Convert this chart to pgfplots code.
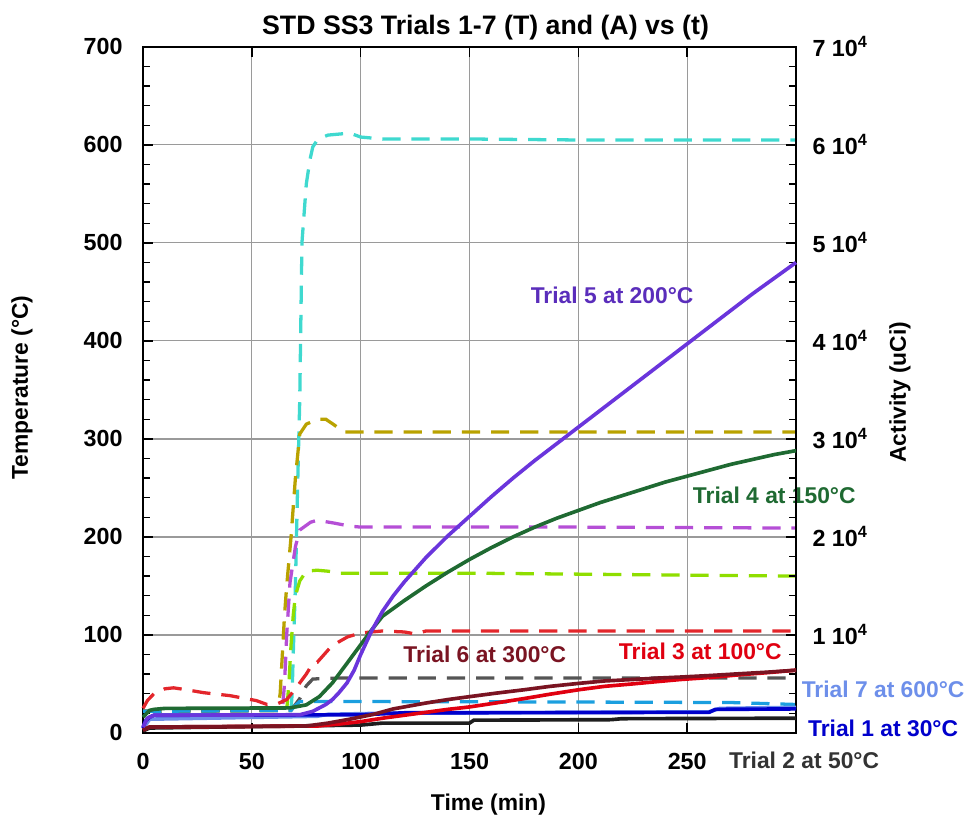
\documentclass[border=0pt]{standalone}
\usepackage{fontspec}
\setmainfont{Liberation Sans}
\usepackage{pgfplots}
\pgfplotsset{compat=1.18}
\usetikzlibrary{calc}

% temperature (dashed, left axis)
\definecolor{cyanT}{HTML}{3FD9CF}
\definecolor{oliveT}{HTML}{B9A200}
\definecolor{orchidT}{HTML}{B54FD6}
\definecolor{limeT}{HTML}{8FDE00}
\definecolor{redT}{HTML}{E3262B}
\definecolor{grayT}{HTML}{555555}
\definecolor{skyT}{HTML}{1B9FDF}
% activity (solid, right axis)
\definecolor{purA}{HTML}{6A35DC}
\definecolor{grnA}{HTML}{1F6A32}
\definecolor{bluA}{HTML}{0000CC}
\definecolor{lbluA}{HTML}{6D8FEA}
\definecolor{marA}{HTML}{7A1422}
\definecolor{redA}{HTML}{E00010}
\definecolor{blkA}{HTML}{1E1E1E}
\definecolor{gridgray}{HTML}{9A9A9A}

\tikzset{tdash/.style={line width=1.35pt, dash pattern=on 7.5pt off 4.5pt},
         asol/.style={line width=1.5pt}}

\begin{document}
\begin{tikzpicture}[font=\bfseries\fontsize{9.4}{11}\selectfont]
\useasboundingbox (-58.9pt,-35.8pt) rectangle (339.3pt,301.8pt);

\begin{axis}[
  at={(0,0)}, anchor=south west,
  scale only axis, width=268.9pt, height=282.5pt,
  xmin=0, xmax=300, ymin=0, ymax=700,
  xtick={0,50,...,300}, xticklabels={0,50,100,150,200,250,},
  ytick={0,100,...,700}, minor y tick num=4,
  xtick pos=both, ytick pos=left, tick align=inside,
  grid=major, major grid style={gridgray, line width=0.5pt},
  axis line style={line width=0.7pt},
  major tick length=4pt, minor tick length=3pt,
  every tick/.style={black, line width=0.6pt},
  tick label style={font=\bfseries\fontsize{9.6}{11}\selectfont},
  yticklabel style={inner sep=0pt, xshift=-8.2pt},
  xticklabel style={inner sep=0pt, yshift=-8.2pt},
  /pgf/number format/assume math mode=true,
  clip=false,
]
% Trial 7 at 600
\addplot[tdash, cyanT] coordinates {(0,22)(10,23)(68,24)(68.5,40)(69,80)(70,150)(71,250)(72,340)(73,500)(75,560)(76.7,585)(78,598)(80.4,606)(85,610)(95,612)(100,608)(110,606)(150,606)(200,605)(300,605)};
% Trial 6 at 300
\addplot[tdash, oliveT] coordinates {(0,22)(60,23)(62,26)(63,40)(64,80)(65,120)(66,150)(68,200)(70,260)(72,305)(75,315)(80,320)(84,320)(88,314)(92,307)(100,307)(150,307)(300,307)};
% Trial 5 at 200
\addplot[tdash, orchidT] coordinates {(0,22)(64,23)(65,50)(66,100)(67.5,153)(70,190)(72,207)(77,215)(80,217)(88,214)(95,211)(100,210)(200,210)(300,209)};
% Trial 4 at 150
\addplot[tdash, limeT] coordinates {(0,22)(66,23)(67,50)(68,90)(69,120)(70,140)(72,155)(75,165)(80,166)(85,165)(90,163)(150,163)(250,161)(300,160)};
% Trial 3 at 100
\addplot[tdash, redT] coordinates {(0,25)(2,33)(5,40)(10,45)(14,46)(20,44)(28,41)(40,38)(52,33)(57,29)(62,30)(66,34)(70,45)(72,51)(75,60)(78,71)(80,72)(86,87)(90,93)(94,98)(100,102)(110,104)(120,103)(125,101)(130,104)(300,104)};
% Trial 2 at 50
\addplot[tdash, grayT] coordinates {(0,22)(68,23)(72,35)(75,48)(78,55)(90,56)(300,56)};
% Trial 1 at 30
\addplot[tdash, skyT] coordinates {(0,22)(68,23)(70,28)(72,32)(100,32)(200,31.5)(270,31)(300,29)};

\node[font=\bfseries\fontsize{11}{13}\selectfont] at ($(axis description cs:0.5,1)+(6.6pt,7.8pt)$) {STD SS3 Trials 1-7 (T) and (A) vs (t)};
\node[rotate=90] at ($(axis description cs:0,0.5)+(-49.8pt,1pt)$) {Temperature (°C)};
\node at ($(axis description cs:0.5,0)+(7.8pt,-29.6pt)$) {Time (min)};

\node[text=purA!85!black] at (axis cs:215.5,446) {Trial 5 at 200°C};
\node[text=grnA] at (axis cs:290,242) {Trial 4 at 150°C};
\node[text=marA] at (axis cs:157,80) {Trial 6 at 300°C};
\node[text=redA] at (axis cs:256,83) {Trial 3 at 100°C};
\node[text=lbluA] at (axis cs:340,44) {Trial 7 at 600°C};
\node[text=bluA] at (axis cs:340,5) {Trial 1 at 30°C};
\node[text=black!80] at (axis cs:303.7,-27.6) {Trial 2 at 50°C};
\end{axis}

\begin{axis}[
  at={(0,0)}, anchor=south west,
  scale only axis, width=268.9pt, height=282.5pt,
  xmin=0, xmax=300, ymin=0, ymax=70000,
  hide x axis, axis y line*=right,
  ytick={0,10000,...,70000}, scaled y ticks=false,
  yticklabels={,1 10\textsuperscript{4},2 10\textsuperscript{4},3 10\textsuperscript{4},4 10\textsuperscript{4},5 10\textsuperscript{4},6 10\textsuperscript{4},7 10\textsuperscript{4}},
  minor y tick num=4, tick align=inside,
  axis line style={line width=0.7pt},
  major tick length=4pt, minor tick length=3pt,
  every tick/.style={black, line width=0.6pt},
  tick label style={font=\bfseries\fontsize{9.6}{11}\selectfont},
  yticklabel style={inner sep=0pt, xshift=6.6pt},
  clip=false,
]
% Trial 7 activity
\addplot[asol, lbluA] coordinates {(0,400)(3,1400)(80,1700)(85,1900)(110,2000)(260,2150)(265,2500)(300,2600)};
% Trial 2 activity
\addplot[asol, blkA] coordinates {(0,200)(3,500)(100,800)(110,1000)(150,1000)(152,1300)(215,1350)(220,1450)(300,1500)};
% Trial 1 activity
\addplot[asol, bluA] coordinates {(0,500)(1,1200)(3,1600)(5,1800)(100,1850)(120,2050)(260,2100)(263,2400)(300,2450)};
% Trial 3 activity
\addplot[asol, redA] coordinates {(0,300)(3,600)(80,700)(90,900)(100,1150)(110,1500)(120,1800)(130,2100)(140,2400)(150,2650)(162,3050)(175,3500)(187,3950)(200,4400)(212,4750)(225,5000)(237,5250)(247,5450)(260,5650)(275,5950)(287,6150)(300,6400)};
% Trial 6 activity
\addplot[asol, marA] coordinates {(0,300)(3,600)(75,700)(85,1000)(95,1400)(106,1900)(115,2450)(130,3050)(140,3400)(150,3700)(162,4050)(175,4400)(187,4750)(200,5050)(212,5300)(225,5450)(237,5600)(247,5700)(260,5850)(275,6050)(287,6200)(300,6400)};
% Trial 4 activity
\addplot[asol, grnA] coordinates {(0,1600)(3,2300)(5,2400)(10,2500)(67.5,2550)(75,2860)(81,3700)(87,5100)(93.7,7100)(100,9000)(105,10500)(110,11900)(120,13500)(130,15000)(140,16400)(150,17700)(160,18900)(170,20000)(180,21000)(190,21900)(200,22700)(210,23500)(220,24200)(230,24900)(240,25600)(250,26200)(260,26800)(270,27400)(280,27900)(290,28400)(300,28800)};
% Trial 5 activity
\addplot[asol, purA] coordinates {(0,600)(2,1500)(5,1800)(72,1850)(78,2200)(81,2550)(84,2900)(87,3400)(90,4100)(93.7,5100)(97,6400)(100,8000)(105,10400)(110,12400)(115,14000)(120,15400)(130,17900)(140,20100)(150,22100)(160,24100)(170,26000)(180,27800)(190,29500)(200,31200)(210,32900)(220,34600)(230,36300)(240,38000)(250,39700)(260,41400)(270,43100)(280,44800)(290,46400)(300,48000)};

\node[rotate=90] at ($(axis description cs:1,0.5)+(42.8pt,-1pt)$) {Activity (uCi)};
\end{axis}
\end{tikzpicture}
\end{document}
